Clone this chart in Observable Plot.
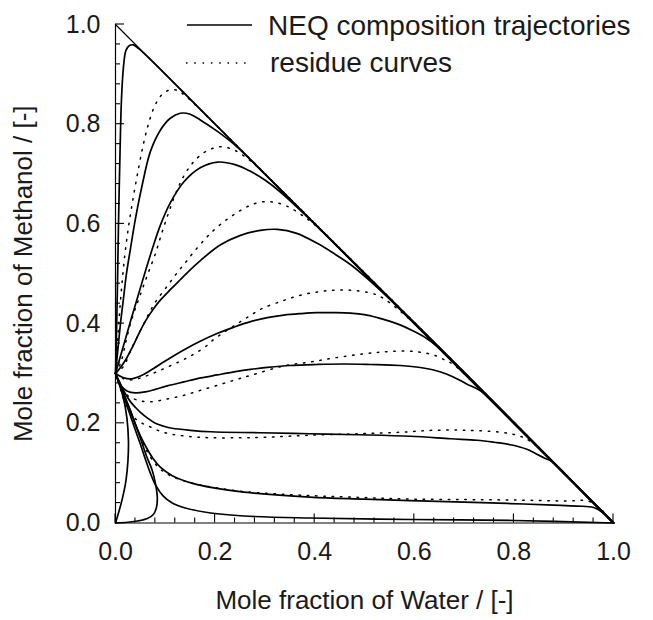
<!DOCTYPE html>
<html><head><meta charset="utf-8">
<script src="https://cdn.jsdelivr.net/npm/d3@7"></script>
<script src="https://cdn.jsdelivr.net/npm/@observablehq/plot@0.6"></script>
<style>
body{margin:0;background:#fff;}
#chart svg{display:block;}
</style>
</head><body><div id="chart"></div>
<script>
// ---- text ----
const xTitle = "Mole fraction of Water / [-]";
const yTitle = "Mole fraction of Methanol / [-]";
const legendLabels = ["NEQ composition trajectories", "residue curves"];

// ---- ticks ----
const majorTicks = [0, 0.2, 0.4, 0.6, 0.8, 1.0];
const minorTicks = [0.04, 0.08, 0.12, 0.16, 0.24, 0.28, 0.32, 0.36, 0.44, 0.48, 0.52, 0.56, 0.64, 0.68, 0.72, 0.76, 0.84, 0.88, 0.92, 0.96];

// ---- triangle boundary (Methanol + Water = 1) ----
const boundary = [[0, 1], [1, 0]];

// ---- NEQ composition trajectories (solid) [water, methanol] ----
const neq1 = [[0,0.3],[0.002,0.38],[0.004,0.48],[0.006,0.6],[0.009,0.74],[0.012,0.85],[0.016,0.915],[0.021,0.948],[0.028,0.958],[0.036,0.959],[0.046,0.952],[0.07,0.93],[0.2,0.8],[1,0]];
const neq2 = [[0,0.3],[0.005,0.35],[0.01,0.4],[0.016,0.45],[0.022,0.5],[0.03,0.55],[0.04,0.61],[0.053,0.675],[0.07,0.745],[0.09,0.788],[0.11,0.812],[0.13,0.822],[0.15,0.82],[0.171,0.808],[0.204,0.786],[0.24,0.758],[0.3,0.7],[1,0]];
const neq3 = [[0,0.3],[0.015,0.352],[0.03,0.404],[0.045,0.455],[0.06,0.505],[0.074,0.55],[0.09,0.597],[0.11,0.642],[0.137,0.684],[0.171,0.713],[0.205,0.724],[0.24,0.719],[0.27,0.706],[0.3,0.688],[0.331,0.664],[0.4,0.6],[1,0]];
const neq4 = [[0,0.3],[0.01,0.312],[0.022,0.33],[0.035,0.355],[0.047,0.38],[0.06,0.405],[0.075,0.428],[0.09,0.447],[0.11,0.468],[0.13,0.488],[0.15,0.508],[0.171,0.527],[0.211,0.558],[0.251,0.577],[0.291,0.587],[0.325,0.589],[0.364,0.581],[0.405,0.561],[0.438,0.541],[0.475,0.516],[0.55,0.45],[1,0]];
const neq5 = [[0,0.3],[0.015,0.292],[0.03,0.289],[0.05,0.295],[0.07,0.306],[0.1,0.325],[0.137,0.347],[0.171,0.365],[0.204,0.38],[0.238,0.393],[0.271,0.404],[0.305,0.412],[0.338,0.417],[0.372,0.42],[0.405,0.422],[0.44,0.422],[0.472,0.421],[0.5,0.418],[0.526,0.412],[0.55,0.405],[0.575,0.396],[0.6,0.384],[0.625,0.37],[0.646,0.354],[0.7,0.3],[1,0]];
const neq6 = [[0,0.3],[0.006,0.285],[0.012,0.274],[0.023,0.265],[0.04,0.261],[0.06,0.263],[0.08,0.268],[0.104,0.275],[0.137,0.283],[0.171,0.291],[0.204,0.297],[0.238,0.303],[0.271,0.308],[0.305,0.312],[0.35,0.316],[0.405,0.318],[0.46,0.319],[0.512,0.318],[0.572,0.316],[0.612,0.312],[0.653,0.303],[0.68,0.292],[0.705,0.279],[0.733,0.265],[0.8,0.2],[1,0]];
const neq7 = [[0,0.3],[0.008,0.283],[0.015,0.268],[0.023,0.254],[0.031,0.242],[0.04,0.232],[0.05,0.222],[0.065,0.21],[0.08,0.2],[0.097,0.194],[0.114,0.19],[0.15,0.186],[0.191,0.183],[0.29,0.181],[0.39,0.179],[0.49,0.177],[0.592,0.174],[0.673,0.169],[0.726,0.166],[0.76,0.162],[0.793,0.157],[0.826,0.148],[0.846,0.138],[0.862,0.13],[0.878,0.122],[0.94,0.06],[1,0]];
const neq8 = [[0,0.3],[0.01,0.275],[0.02,0.25],[0.03,0.225],[0.04,0.198],[0.05,0.175],[0.06,0.155],[0.075,0.13],[0.09,0.112],[0.114,0.095],[0.157,0.079],[0.2,0.07],[0.258,0.062],[0.39,0.052],[0.5,0.048],[0.592,0.045],[0.7,0.042],[0.793,0.039],[0.88,0.036],[0.927,0.034],[0.96,0.031],[0.98,0.02],[1,0]];
const neq9 = [[0,0.3],[0.01,0.272],[0.02,0.244],[0.03,0.215],[0.04,0.186],[0.05,0.158],[0.06,0.128],[0.07,0.1],[0.08,0.077],[0.095,0.055],[0.114,0.04],[0.14,0.03],[0.191,0.02],[0.258,0.014],[0.39,0.01],[0.592,0.007],[0.8,0.005],[1,0]];
const neq10 = [[0,0.3],[0.01,0.275],[0.02,0.25],[0.03,0.225],[0.04,0.198],[0.05,0.17],[0.062,0.135],[0.074,0.105],[0.081,0.075],[0.084,0.05],[0.082,0.03],[0.076,0.017],[0.064,0.009],[0.044,0.004],[0.02,0.001],[0,0]];
const neq11 = [[0,0],[0.006,0.02],[0.014,0.05],[0.021,0.085],[0.025,0.125],[0.026,0.165],[0.023,0.21],[0.016,0.25],[0.008,0.278],[0,0.3]];

// ---- residue curves (dotted) ----
const res1 = [[0,0.3],[0.004,0.36],[0.008,0.42],[0.013,0.48],[0.019,0.54],[0.027,0.6],[0.036,0.655],[0.046,0.71],[0.056,0.76],[0.066,0.8],[0.078,0.835],[0.092,0.858],[0.107,0.868],[0.124,0.868],[0.14,0.857],[0.2,0.8],[1,0]];
const res2 = [[0,0.3],[0.01,0.32],[0.017,0.346],[0.023,0.373],[0.03,0.4],[0.038,0.425],[0.047,0.45],[0.057,0.478],[0.068,0.508],[0.08,0.54],[0.09,0.572],[0.1,0.603],[0.11,0.632],[0.122,0.664],[0.136,0.694],[0.15,0.716],[0.165,0.733],[0.181,0.745],[0.197,0.752],[0.214,0.755],[0.234,0.75],[0.251,0.741],[0.268,0.729],[0.3,0.7],[1,0]];
const res3 = [[0,0.3],[0.017,0.315],[0.027,0.338],[0.037,0.36],[0.047,0.38],[0.057,0.4],[0.067,0.42],[0.08,0.443],[0.1,0.47],[0.12,0.497],[0.14,0.522],[0.16,0.547],[0.181,0.571],[0.197,0.587],[0.217,0.604],[0.234,0.616],[0.251,0.627],[0.268,0.636],[0.284,0.642],[0.305,0.645],[0.321,0.643],[0.338,0.638],[0.355,0.63],[0.375,0.617],[0.4,0.598],[1,0]];
const res4 = [[0,0.3],[0.015,0.29],[0.03,0.287],[0.047,0.29],[0.067,0.297],[0.087,0.305],[0.107,0.314],[0.127,0.323],[0.145,0.332],[0.161,0.341],[0.181,0.354],[0.197,0.368],[0.214,0.38],[0.231,0.391],[0.248,0.402],[0.264,0.412],[0.28,0.422],[0.298,0.432],[0.331,0.444],[0.364,0.455],[0.402,0.463],[0.438,0.467],[0.472,0.467],[0.505,0.463],[0.526,0.457],[0.542,0.448],[0.562,0.433],[0.6,0.4],[1,0]];
const res5 = [[0,0.3],[0.01,0.275],[0.02,0.26],[0.03,0.252],[0.05,0.245],[0.07,0.243],[0.1,0.248],[0.137,0.256],[0.17,0.266],[0.204,0.276],[0.24,0.287],[0.271,0.296],[0.338,0.315],[0.392,0.323],[0.438,0.331],[0.505,0.34],[0.55,0.344],[0.6,0.344],[0.639,0.337],[0.663,0.326],[0.68,0.317],[0.75,0.25],[1,0]];
const res6 = [[0,0.3],[0.008,0.275],[0.015,0.252],[0.022,0.235],[0.03,0.22],[0.045,0.205],[0.067,0.194],[0.09,0.184],[0.114,0.178],[0.154,0.173],[0.191,0.171],[0.25,0.171],[0.3,0.172],[0.39,0.176],[0.49,0.179],[0.572,0.182],[0.639,0.186],[0.706,0.186],[0.773,0.182],[0.806,0.176],[0.833,0.164],[0.9,0.1],[1,0]];
const res7 = [[0,0.3],[0.01,0.276],[0.02,0.25],[0.03,0.224],[0.04,0.197],[0.05,0.172],[0.06,0.15],[0.075,0.125],[0.09,0.108],[0.114,0.093],[0.157,0.079],[0.2,0.071],[0.258,0.063],[0.39,0.055],[0.5,0.051],[0.592,0.048],[0.7,0.047],[0.8,0.046],[0.9,0.044],[0.955,0.042],[1,0]];

const neqCurves = [neq1, neq2, neq3, neq4, neq5, neq6, neq7, neq8, neq9, neq10, neq11];
const resCurves = [res1, res2, res3, res4, res5, res6, res7];

const toRows = (curves, tag) => curves.flatMap((c, i) => c.map(([x, y]) => ({x, y, id: tag + i})));
const neqRows = toRows(neqCurves, "neq");
const resRows = toRows(resCurves, "res");

const FONT = "'Liberation Sans', Arial, Helvetica, sans-serif";
const INK = "#1a1a1a";

// inward ticks, placed through the plot's own x/y scales
function inwardTicks(index, scales) {
  const {x, y} = scales;
  const g = d3.create("svg:g").attr("stroke", "#000").attr("stroke-width", 1.1).attr("fill", "none");
  const x0 = x(0), y0 = y(0);
  const add = (t, len) => {
    g.append("line").attr("x1", x(t)).attr("x2", x(t)).attr("y1", y0).attr("y2", y0 - len);
    g.append("line").attr("x1", x0).attr("x2", x0 + len).attr("y1", y(t)).attr("y2", y(t));
  };
  minorTicks.forEach(t => add(t, 5));
  majorTicks.forEach(t => add(t, 9));
  return g.node();
}

function legend() {
  const g = d3.create("svg:g")
    .attr("font-family", FONT).attr("font-size", 28).attr("fill", INK)
    .attr("text-anchor", "start");
  g.append("line").attr("x1", 187).attr("x2", 252).attr("y1", 25).attr("y2", 25)
    .attr("stroke", "#000").attr("stroke-width", 1.6);
  g.append("text").attr("x", 268).attr("y", 35).text(legendLabels[0]);
  g.append("line").attr("x1", 186).attr("x2", 246).attr("y1", 63).attr("y2", 63)
    .attr("stroke", "#000").attr("stroke-width", 1.5).attr("stroke-dasharray", "1.5 6.8");
  g.append("text").attr("x", 270).attr("y", 71.5).text(legendLabels[1]);
  return g.node();
}

const chart = Plot.plot({
  width: 653,
  height: 620,
  marginLeft: 115,
  marginRight: 40,
  marginTop: 24,
  marginBottom: 97.5,
  x: {domain: [0, 1]},
  y: {domain: [0, 1]},
  style: {fontFamily: FONT, color: INK, background: "#fff", overflow: "visible"},
  marks: [
    Plot.line(resRows, {x: "x", y: "y", z: "id", curve: "catmull-rom", stroke: "#000", strokeWidth: 1.5, strokeDasharray: "1.5 6.8"}),
    Plot.line(neqRows, {x: "x", y: "y", z: "id", curve: "catmull-rom", stroke: "#000", strokeWidth: 1.7}),
    Plot.line(boundary, {x: d => d[0], y: d => d[1], stroke: "#000", strokeWidth: 1.2}),
    Plot.ruleX([0], {stroke: "#000", strokeWidth: 1.2}),
    Plot.ruleY([0], {stroke: "#000", strokeWidth: 1.2}),
    inwardTicks,
    Plot.axisX(majorTicks, {tickSize: 0, tickPadding: 19, tickFormat: d3.format(".1f"), fontSize: 25, label: null}),
    Plot.axisY(majorTicks, {tickSize: 0, tickPadding: 15, tickFormat: d3.format(".1f"), fontSize: 25, label: null}),
    Plot.text([xTitle], {text: d => d, frameAnchor: "bottom", dy: 86, fontSize: 26, fill: INK}),
    Plot.text([yTitle], {text: d => d, frameAnchor: "left", textAnchor: "middle", rotate: -90, dx: -92, fontSize: 26, fill: INK}),
    legend
  ]
});
document.getElementById("chart").append(chart);
</script>
</body></html>
